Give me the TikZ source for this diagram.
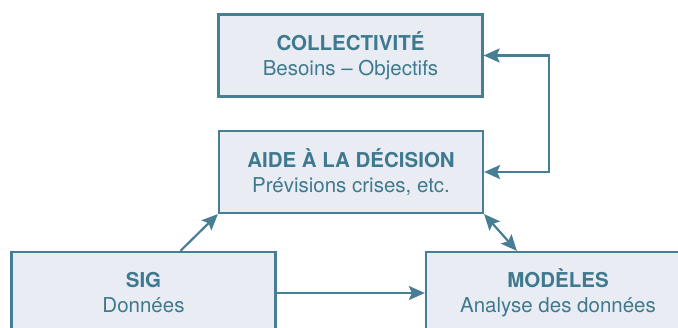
\documentclass[tikz,border=0pt]{standalone}
\usepackage{fontspec}
\setmainfont{TeX Gyre Heros}
\usetikzlibrary{arrows.meta,calc}
\definecolor{edgeblue}{RGB}{70,126,148}
\definecolor{boxfill}{RGB}{233,237,243}
\definecolor{txtblue}{RGB}{62,121,143}
\tikzset{
  box/.style={draw=edgeblue, fill=boxfill, line width=2.2pt, minimum width=264pt,
    minimum height=82pt, inner sep=0pt, align=center, text=txtblue,
    font=\fontsize{20.5}{25}\selectfont},
  conn/.style={draw=edgeblue, line width=2.2pt,
    arrows={-Stealth[length=16pt,width=14pt,inset=3pt]}},
  dconn/.style={draw=edgeblue, line width=2.2pt,
    arrows={Stealth[length=16pt,width=14pt,inset=3pt]-Stealth[length=16pt,width=14pt,inset=3pt]}}
}
\begin{document}
\begin{tikzpicture}[x=1pt,y=-1pt]
\useasboundingbox (0,0) rectangle (678,327);
\node[box] (coll) at (350.5,55.5) {\textbf{COLLECTIVITÉ}\\Besoins – Objectifs};
\node[box] (aide) at (351,172) {\textbf{AIDE À LA DÉCISION}\\Prévisions crises, etc.};
\node[box] (sig) at (143.5,293) {\textbf{SIG}\\Données};
\node[box] (mod) at (558,293) {\textbf{MODÈLES}\\Analyse des données};
\coordinate (r1) at (549,55.5);
\draw[conn] (sig.east) -- (mod.west);
\draw[conn] ([xshift=170pt]sig.north west) -- (aide.south west);
\draw[dconn] (aide.south east) -- ([xshift=92pt]mod.north west);
\draw[dconn] (coll.east) -- (r1) |- (aide.east);
\end{tikzpicture}
\end{document}
